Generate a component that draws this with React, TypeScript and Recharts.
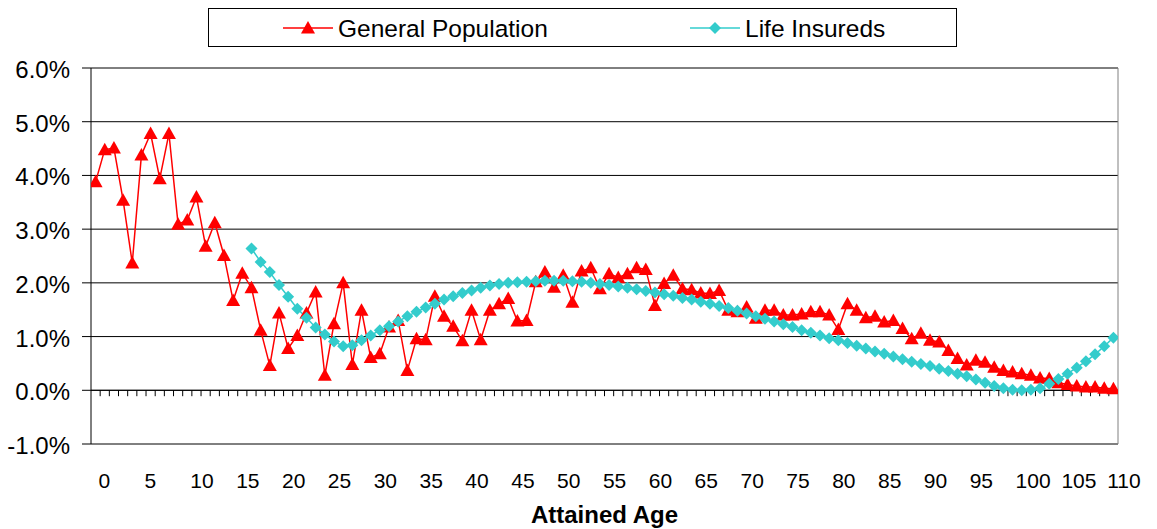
import { CartesianGrid, Legend, Line, LineChart, ReferenceLine, XAxis, YAxis } from "recharts"

const RED = "#FF0000"
const CYAN = "#33CCCC"
const FONT = '"Liberation Sans", Arial, sans-serif'

// attained ages 0..111 (one category per year)
const ages = Array.from({ length: 112 }, (_, i) => i)

// General Population, % per age 0..111
const generalPopulation = [
    3.88, 4.48, 4.51, 3.54, 2.37, 4.38, 4.78, 3.94, 4.78, 3.09,
    3.17, 3.6, 2.68, 3.12, 2.51, 1.67, 2.18, 1.91, 1.12, 0.46,
    1.44, 0.78, 1.02, 1.44, 1.83, 0.28, 1.24, 2.0, 0.48, 1.49,
    0.61, 0.68, 1.18, 1.3, 0.37, 0.96, 0.94, 1.75, 1.38, 1.19,
    0.92, 1.49, 0.94, 1.49, 1.61, 1.71, 1.29, 1.3, 2.02, 2.2,
    1.92, 2.14, 1.64, 2.22, 2.28, 1.89, 2.17, 2.1, 2.17, 2.28,
    2.25, 1.58, 1.99, 2.14, 1.89, 1.87, 1.81, 1.8, 1.86, 1.49,
    1.46, 1.55, 1.34, 1.49, 1.49, 1.4, 1.4, 1.42, 1.46, 1.46,
    1.4, 1.13, 1.61, 1.49, 1.35, 1.38, 1.27, 1.3, 1.15, 0.96,
    1.06, 0.93, 0.9, 0.74, 0.59, 0.47, 0.56, 0.52, 0.43, 0.37,
    0.34, 0.31, 0.28, 0.23, 0.22, 0.14, 0.11, 0.08, 0.06, 0.06,
    0.04, 0.03,
]

// Life Insureds starts at age 17
const lifeStartAge = 17
const lifeInsureds = [
    2.64, 2.39, 2.2,
    1.96, 1.74, 1.52, 1.35, 1.17, 1.04, 0.91, 0.82, 0.84, 0.93,
    1.02, 1.12, 1.19, 1.28, 1.38, 1.46, 1.54, 1.61, 1.69, 1.75,
    1.81, 1.86, 1.91, 1.95, 1.98, 2.0, 2.01, 2.02, 2.03, 2.04,
    2.04, 2.04, 2.03, 2.02, 2.0, 1.98, 1.96, 1.93, 1.91, 1.88,
    1.85, 1.82, 1.79, 1.76, 1.72, 1.69, 1.65, 1.61, 1.57, 1.53,
    1.48, 1.43, 1.38, 1.33, 1.28, 1.23, 1.18, 1.12, 1.07, 1.02,
    0.97, 0.93, 0.88, 0.83, 0.78, 0.72, 0.68, 0.63, 0.58, 0.53,
    0.49, 0.45, 0.4, 0.36, 0.31, 0.26, 0.2, 0.14, 0.08, 0.04,
    0.01, 0.0, 0.01, 0.04, 0.12, 0.21, 0.31, 0.42, 0.54, 0.67,
    0.82, 0.98,
]

const xTicks = [0, 5, 10, 15, 20, 25, 30, 35, 40, 45, 50, 55, 60, 65, 70, 75, 80, 85, 90, 95, 100, 105, 110]
const yTicks = [-1, 0, 1, 2, 3, 4, 5, 6]

const rows = ages.map((age) => ({
    age,
    gen: generalPopulation[age],
    life: age >= lifeStartAge ? lifeInsureds[age - lifeStartAge] : null,
}))

// small tick marks on the 0% axis, between categories
const boundaries = ages.slice(0, -1).map((a) => a + 0.5)

const Triangle = ({ cx, cy, fill }: any) => (
    <path d={`M${cx},${cy - 7}L${cx + 7},${cy + 5.5}L${cx - 7},${cy + 5.5}Z`} fill={fill} />
)

const Diamond = ({ cx, cy, fill }: any) => (
    <path d={`M${cx},${cy - 6}L${cx + 6},${cy}L${cx},${cy + 6}L${cx - 6},${cy}Z`} fill={fill} />
)

const XTick = ({ x, y, payload }: any) => (
    <text x={x + 3} y={y + 44} textAnchor="start" fontSize={21} fontFamily={FONT} fill="#000">
        {payload.value}
    </text>
)

const YTick = ({ x, y, payload }: any) => (
    <text x={x} y={y + 10} textAnchor="end" fontSize={24} fontFamily={FONT} fill="#000">
        {`${payload.value.toFixed(1)}%`}
    </text>
)

function ChartLegend() {
    return (
        <svg width={747} height={37} style={{ display: "block" }}>
            <line x1={74} x2={124} y1={19} y2={19} stroke={RED} strokeWidth={1.5} />
            <Triangle cx={99} cy={19} fill={RED} />
            <text x={129} y={28} fontSize={24.5} fontFamily={FONT} fill="#000">
                General Population
            </text>
            <line x1={481} x2={531} y1={19} y2={19} stroke={CYAN} strokeWidth={1.5} />
            <Diamond cx={506} cy={19} fill={CYAN} />
            <text x={536} y={28} fontSize={24.5} fontFamily={FONT} fill="#000">
                Life Insureds
            </text>
        </svg>
    )
}

export default function App() {
    return (
        <div style={{ position: "absolute", left: 0, top: 0, width: 1157, height: 529, background: "#fff", fontFamily: FONT }}>
            <LineChart width={1157} height={529} data={rows} margin={{ top: 68, right: 39, bottom: 15, left: 11 }}>
                <CartesianGrid vertical={false} stroke="#000" />
                <XAxis
                    dataKey="age"
                    type="number"
                    domain={[-0.5, 111.5]}
                    ticks={xTicks}
                    interval={0}
                    allowDataOverflow
                    axisLine={false}
                    tickLine={false}
                    tickSize={0}
                    tickMargin={0}
                    height={70}
                    tick={<XTick />}
                    label={{
                        value: "Attained Age",
                        position: "insideBottom",
                        offset: -9,
                        style: { fontSize: 24, fontWeight: "bold", fill: "#000", fontFamily: FONT },
                    }}
                />
                <YAxis
                    domain={[-1, 6]}
                    ticks={yTicks}
                    allowDataOverflow
                    width={80}
                    axisLine={{ stroke: "#000" }}
                    tickLine={{ stroke: "#000" }}
                    tickSize={9}
                    tickMargin={12}
                    tick={<YTick />}
                />
                <ReferenceLine y={0} stroke="#000" />
                {boundaries.map((b) => (
                    <ReferenceLine
                        key={b}
                        segment={[
                            { x: b, y: 0 },
                            { x: b, y: -0.11 },
                        ]}
                        stroke="#000"
                    />
                ))}
                <ReferenceLine x={111.5} stroke="#808080" />
                <Legend
                    layout="horizontal"
                    verticalAlign="middle"
                    align="center"
                    content={() => <ChartLegend />}
                    wrapperStyle={{
                        position: "absolute",
                        left: 208,
                        top: 8,
                        width: 749,
                        height: 39,
                        border: "1px solid #000",
                        boxSizing: "border-box",
                        background: "#fff",
                    }}
                />
                <Line
                    dataKey="gen"
                    name="General Population"
                    stroke={RED}
                    strokeWidth={1.5}
                    isAnimationActive={false}
                    activeDot={false}
                    dot={(p: any) =>
                        p.cx == null || p.cy == null ? (
                            <g key={`g${p.index}`} />
                        ) : (
                            <Triangle key={`g${p.index}`} cx={p.cx} cy={p.cy} fill={RED} />
                        )
                    }
                />
                <Line
                    dataKey="life"
                    name="Life Insureds"
                    stroke={CYAN}
                    strokeWidth={1.5}
                    isAnimationActive={false}
                    activeDot={false}
                    dot={(p: any) =>
                        p.cx == null || p.cy == null || p.value == null ? (
                            <g key={`l${p.index}`} />
                        ) : (
                            <Diamond key={`l${p.index}`} cx={p.cx} cy={p.cy} fill={CYAN} />
                        )
                    }
                />
            </LineChart>
        </div>
    )
}
